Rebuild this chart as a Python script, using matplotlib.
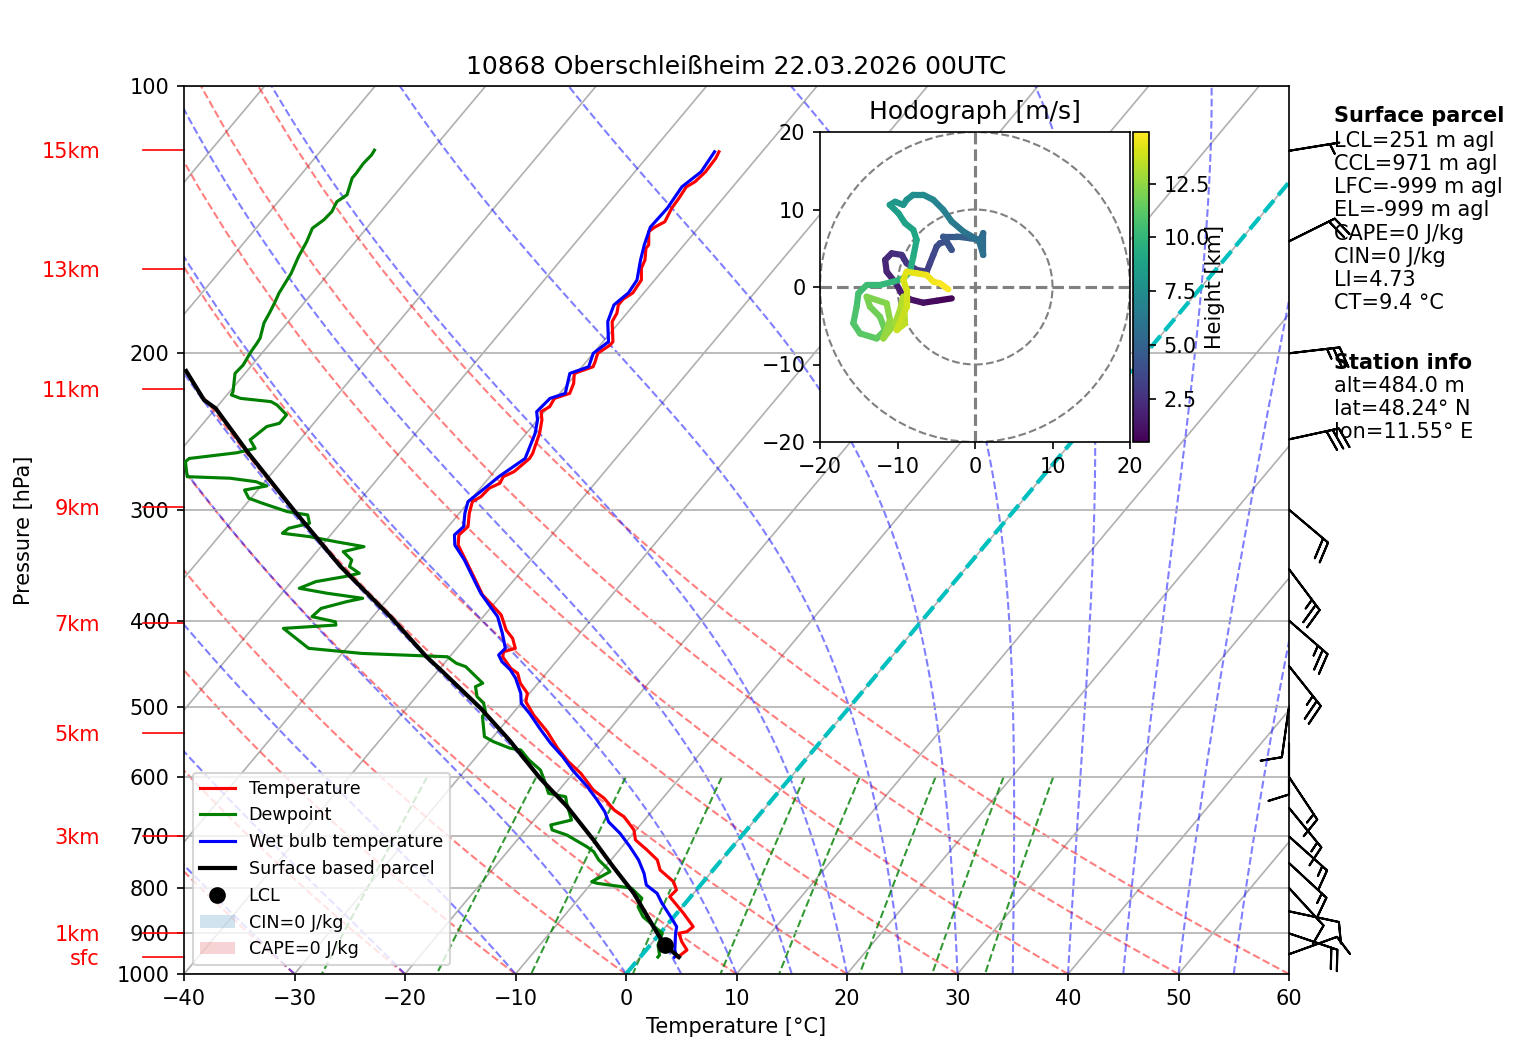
import numpy as np
import matplotlib
matplotlib.use("Agg")
import matplotlib.pyplot as plt
import matplotlib.transforms as mtransforms
from matplotlib.collections import LineCollection
from matplotlib.patches import Patch, Circle
from matplotlib.ticker import FixedLocator, NullLocator, ScalarFormatter, NullFormatter

# ---------------- data ----------------
title = "10868 Oberschleißheim 22.03.2026 00UTC"

temp_p = [118.6, 120.6, 124.9, 128.2, 129.9, 133.9, 137.3, 142.2, 144.2, 145.9, 151.0, 152.3,
          157.0, 160.4, 165.4, 168.3, 171.0, 173.8, 176.4, 180.3, 184.2, 194.1, 195.7, 200.0,
          204.4, 207.1, 210.7, 216.2, 221.9, 224.8, 229.7, 232.7, 237.7, 246.1, 259.3, 262.7,
          271.8, 275.4, 280.1, 283.8, 290.1, 293.8, 302.8, 313.5, 320.3, 328.8, 340.3, 358.4,
          374.3, 385.9, 394.2, 410.0, 418.8, 429.8, 433.6, 439.3, 452.6, 458.5, 470.5, 482.9,
          493.6, 510.8, 533.4, 556.9, 576.7, 594.3, 620.6, 634.0, 653.6, 665.1, 688.3, 706.4,
          725.0, 744.1, 763.6, 787.1, 804.2, 818.4, 832.5, 854.3, 884.6, 896.1, 899.8, 919.7,
          939.7, 952.0, 957.0]
temp_c = [-53.9, -53.7, -53.6, -53.8, -54.2, -54.0, -53.9, -53.5, -54.0, -54.2, -53.2, -53.2,
          -52.4, -52.1, -51.2, -51.1, -51.0, -51.4, -51.4, -50.9, -50.7, -49.1, -49.1, -49.6,
          -49.2, -49.0, -50.2, -49.5, -49.1, -50.1, -49.9, -50.3, -49.6, -48.8, -47.9, -47.8,
          -48.2, -48.8, -48.6, -49.2, -49.3, -49.7, -49.1, -48.2, -48.4, -47.7, -46.1, -43.7,
          -41.7, -39.8, -38.5, -36.9, -35.7, -34.7, -35.5, -35.2, -33.6, -32.6, -31.6, -30.2,
          -29.7, -28.0, -25.5, -23.3, -21.3, -19.3, -16.9, -15.3, -13.5, -12.1, -10.2, -9.3,
          -7.5, -5.8, -4.8, -2.7, -1.8, -1.9, -0.9, 0.6, 2.5, 2.3, 1.7, 2.6,
          3.7, 3.5, 3.4]

dew_p = [118.1, 119.6, 122.2, 125.4, 127.0, 132.6, 135.0, 138.5, 141.5, 144.6, 149.7, 155.7,
         162.6, 166.9, 171.2, 175.0, 179.5, 184.9, 192.3, 194.9, 199.2, 206.2, 210.7, 220.9,
         222.8, 224.8, 226.7, 228.7, 234.6, 239.8, 241.8, 250.3, 255.9, 258.8, 262.7, 264.9,
         275.4, 276.5, 279.0, 282.1, 285.1, 291.2, 295.0, 301.5, 304.1, 310.8, 314.8, 318.9,
         321.7, 326.0, 330.2, 334.5, 341.8, 347.7, 353.8, 356.9, 361.5, 367.8, 372.6, 377.5,
         380.8, 387.5, 395.9, 401.2, 404.6, 408.1, 417.1, 429.8, 435.5, 439.3, 446.8, 450.7,
         462.6, 470.5, 474.7, 487.1, 495.6, 506.5, 513.0, 540.4, 547.5, 556.9, 559.4, 574.1,
         589.3, 604.7, 626.0, 631.5, 642.4, 670.8, 679.5, 688.3, 697.3, 718.8, 728.1, 744.1,
         760.3, 767.0, 787.1, 790.4, 797.4, 800.7, 821.8, 840.1, 862.0, 884.6, 899.8, 927.6,
         952.0, 957.0]
dew_c = [-85.2, -85.1, -85.2, -85.1, -85.1, -84.3, -84.7, -84.4, -84.5, -84.9, -84.4, -84.0,
         -83.4, -83.2, -83.0, -82.7, -82.4, -82.1, -81.3, -81.2, -81.1, -80.8, -80.9, -79.7,
         -79.6, -78.5, -75.5, -74.7, -73.1, -73.1, -74.0, -74.5, -73.4, -74.7, -78.6, -78.7,
         -77.4, -73.4, -70.8, -69.5, -71.2, -70.2, -68.6, -65.7, -63.6, -62.8, -64.3, -64.5,
         -61.8, -59.0, -56.1, -57.6, -56.2, -55.9, -54.5, -55.6, -57.8, -58.8, -55.9, -52.3,
         -53.5, -55.3, -55.5, -53.0, -52.7, -57.2, -55.6, -53.4, -48.2, -40.2, -38.9, -37.8,
         -36.1, -35.0, -35.4, -34.5, -33.4, -32.6, -32.5, -30.8, -29.6, -27.6, -26.5, -25.0,
         -23.2, -22.1, -20.7, -18.9, -18.3, -16.6, -18.1, -17.6, -15.9, -13.2, -12.2, -11.1,
         -9.7, -9.2, -10.1, -9.5, -7.0, -6.0, -4.3, -4.0, -2.8, -1.0, 0.2, 0.7,
         1.6, 1.6]

wetbulb_p = [118.6, 124.9, 129.9, 137.3, 144.2, 151.0, 157.0, 165.4, 171.0, 176.4, 184.2, 194.1,
             200.0, 207.1, 210.7, 221.9, 224.8, 232.7, 237.7, 246.1, 262.7, 275.4, 283.8, 293.8,
             302.8, 313.5, 320.3, 328.8, 341.8, 356.9, 372.6, 385.9, 395.9, 413.5, 429.8, 437.3,
             444.9, 454.6, 464.5, 482.9, 495.6, 508.6, 531.1, 549.8, 569.2, 589.3, 615.2, 636.9,
             656.8, 674.1, 694.4, 718.8, 744.1, 770.2, 794.0, 811.3, 832.5, 862.0, 884.6, 899.8,
             939.7, 952.0, 957.0]
wetbulb_c = [-54.3, -54.0, -54.6, -54.3, -54.4, -53.6, -52.8, -51.6, -51.4, -51.8, -51.1, -49.5,
             -50.0, -49.4, -50.6, -49.5, -50.5, -50.7, -50.0, -49.2, -48.2, -49.2, -49.6, -50.1,
             -49.5, -48.6, -48.8, -48.0, -46.0, -44.0, -42.0, -40.1, -38.7, -37.0, -35.6, -35.7,
             -34.9, -33.5, -32.4, -30.8, -30.0, -28.5, -26.2, -24.3, -22.2, -20.3, -17.7, -15.8,
             -14.2, -13.1, -11.2, -9.3, -7.5, -6.0, -4.9, -3.3, -2.1, -0.3, 1.0, 1.4,
             2.6, 3.1, 3.1]

parcel_p = [209.4, 225.7, 230.7, 259.3, 301.5, 347.7, 395.9, 439.3, 454.6, 502.0, 545.1, 602.1,
            648.0, 706.4, 757.1, 811.3, 884.6, 927.6, 957.0]
parcel_c = [-85.5, -81.7, -80.0, -73.6, -65.0, -56.7, -48.4, -42.1, -39.8, -33.3, -28.3, -22.6,
            -18.0, -13.1, -9.3, -5.4, -1.1, 1.3, 3.5]

lcl_p = 927.6
lcl_c = 1.3

height_labels = ["15km", "13km", "11km", "9km", "7km", "5km", "3km", "1km", "sfc"]
height_p = [118.2, 160.9, 219.4, 298.0, 402.4, 535.6, 698.5, 899.8, 957.3]

barb_p = [118.3, 149.6, 200, 250, 300, 350, 400, 450, 500, 550, 600, 650, 700, 750, 800, 850, 900, 950]
barb_u = [-4.9, -17.9, -24.8, -29.3, -15.3, -15.0, -18.9, -15.6, 1.4, 0.0, -8.3, -9.5, -11.2, -11.0,
          -6.8, -9.8, -18.9, -9.4]
barb_v = [-0.8, -8.9, -2.9, -6.4, 12.9, 20.0, 16.4, 19.6, 9.9, 10.0, 12.5, 11.6, 10.0, 10.2,
          7.4, 2.1, 6.4, -3.4]

hodo_u = [-3.0, -4.95, -6.67, -8.39, -9.46, -10.2, -11.4, -11.6, -10.75, -9.46, -8.82, -7.53, -6.24,
          -5.81, -5.38, -4.95, -4.52, -3.66, -3.01, -4.09, -2.37, -0.65, 0.65, 1.08, 1.08, 0.5,
          -1.5, -3.01, -4.09, -5.38, -6.67, -7.96, -8.82, -9.25, -10.3, -11.0, -9.89, -9.03, -7.96,
          -7.53, -7.96, -8.39, -9.25, -10.54, -12.26, -13.98, -15.05, -15.27, -15.7, -14.84, -12.69,
          -11.61, -12.26, -13.55, -13.98, -11.4, -10.97, -11.83, -10.32, -9.68, -9.25, -9.03, -10.1,
          -8.82, -8.82, -9.25, -8.82, -7.53, -6.24, -5.38, -4.52, -3.44]
hodo_v = [-1.47, -1.77, -2.03, -1.6, -0.82, 0.47, 1.98, 3.49, 4.35, 4.14, 3.06, 2.2, 1.98,
          3.06, 4.14, 5.22, 5.65, 5.86, 4.78, 6.51, 6.51, 6.29, 6.08, 6.94, 4.14, 6.0,
          7.16, 8.45, 9.96, 11.25, 11.9, 11.9, 11.25, 10.6, 11.0, 10.6, 9.53, 8.23, 7.37,
          6.08, 3.92, 1.98, 1.12, 0.69, 0.26, 0.26, -0.82, -2.54, -4.7, -5.99, -6.64,
          -5.56, -3.84, -2.54, -1.25, -2.11, -4.27, -6.64, -4.7, -2.97, -1.25, -4.7, -5.56,
          -2.54, -0.39, 0.91, 1.98, 1.77, 1.55, 0.69, 0.47, -0.3]
hodo_h = [0.5, 0.8, 1.0, 1.3, 1.5, 1.7, 1.9, 2.1, 2.3, 2.5, 2.7, 2.9, 3.1,
          3.3, 3.5, 3.7, 3.9, 4.0, 4.1, 4.3, 4.6, 5.0, 5.3, 5.5, 5.6, 5.8,
          6.1, 6.4, 6.7, 7.0, 7.3, 7.5, 7.7, 7.9, 8.1, 8.3, 8.5, 8.7, 8.9,
          9.1, 9.3, 9.5, 9.7, 9.9, 10.1, 10.3, 10.5, 10.7, 10.9, 11.1, 11.3,
          11.5, 11.7, 11.9, 12.0, 12.2, 12.4, 12.6, 12.8, 13.0, 13.2, 13.4, 13.6,
          13.8, 14.0, 14.1, 14.2, 14.4, 14.5, 14.6, 14.7, 14.9]

parcel_title = "Surface parcel"
parcel_lines = ["LCL=251 m agl", "CCL=971 m agl", "LFC=-999 m agl", "EL=-999 m agl",
                "CAPE=0 J/kg", "CIN=0 J/kg", "LI=4.73", "CT=9.4 °C"]
station_title = "Station info"
station_lines = ["alt=484.0 m", "lat=48.24° N", "lon=11.55° E"]

pressure_ticks = [100, 200, 300, 400, 500, 600, 700, 800, 900, 1000]
temp_ticks = [-40, -30, -20, -10, 0, 10, 20, 30, 40, 50, 60]
isotherm_c = list(range(-110, 61, 10))
dry_t0 = list(range(-40, 61, 10))
moist_t0 = [-40, -30, -20, -10] + list(range(0, 61, 5))
mix_w = [0.0004, 0.001, 0.002, 0.004, 0.007, 0.01, 0.016, 0.024, 0.032]

SKEW = 0.673  # shear of isotherms in axes units

# ---------------- figure ----------------
W, H, DPI = 1517, 1060, 150
fig = plt.figure(figsize=(W / DPI, H / DPI), dpi=DPI)
ax = fig.add_axes([184 / W, 1 - 974 / H, 1105 / W, 888 / H])
ax.set_yscale("log")
ax.set_xlim(-40, 60)
ax.set_ylim(1000, 100)
ax.yaxis.set_major_locator(FixedLocator(pressure_ticks))
ax.yaxis.set_major_formatter(ScalarFormatter())
ax.yaxis.set_minor_locator(NullLocator())
ax.yaxis.set_minor_formatter(NullFormatter())
ax.set_xticks(temp_ticks)
ax.grid(True, axis="y", color="#b0b0b0", lw=0.8)
ax.set_title(title)
ax.set_xlabel("Temperature [°C]")
ax.set_ylabel("Pressure [hPa]")
ax.yaxis.set_label_coords(-0.136, 0.5)

skew = mtransforms.Affine2D().skew(np.arctan(SKEW), 0)
trans = ax.transScale + ax.transLimits + skew + ax.transAxes
blend = mtransforms.blended_transform_factory(ax.transAxes, ax.transData)

# isotherms
for t in isotherm_c:
    ax.plot([t, t], [1000, 100], transform=trans, color="#b0b0b0", lw=0.8, zorder=1)

# dry adiabats
pp = np.linspace(1000, 100, 60)
for t0 in dry_t0:
    tt = (t0 + 273.15) * (pp / 1000.0) ** 0.2857 - 273.15
    ax.plot(tt, pp, transform=trans, color="r", alpha=0.5, ls="--", lw=1, zorder=1.5)

# moist adiabats
def moist_profile(t0c, pres):
    Rd, Cp, Lv, eps = 287.04749, 1004.6662, 2.50084e6, 0.6219569

    def f(T, p):
        es = 6.112 * np.exp(17.67 * (T - 273.15) / (T - 29.65))
        rs = eps * es / (p - es)
        return (Rd * T + Lv * rs) / (Cp + Lv * Lv * rs * eps / (Rd * T * T)) / p

    T = t0c + 273.15
    out = [T]
    for i in range(len(pres) - 1):
        h = pres[i + 1] - pres[i]
        p0 = pres[i]
        k1 = f(T, p0)
        k2 = f(T + 0.5 * h * k1, p0 + 0.5 * h)
        k3 = f(T + 0.5 * h * k2, p0 + 0.5 * h)
        k4 = f(T + h * k3, p0 + h)
        T = T + h * (k1 + 2 * k2 + 2 * k3 + k4) / 6.0
        out.append(T)
    return np.array(out) - 273.15

pm = np.linspace(1000, 100, 200)
for t0 in moist_t0:
    ax.plot(moist_profile(t0, pm), pm, transform=trans, color="b", alpha=0.5, ls="--", lw=1, zorder=1.5)

# mixing ratio lines
pw = np.linspace(600, 1000, 50)
for w in mix_w:
    e = pw * w / (0.6219569 + w)
    val = np.log(e / 6.112)
    td = 243.5 * val / (17.67 - val)
    ax.plot(td, pw, transform=trans, color="g", alpha=0.8, ls="--", lw=1, zorder=1.5)

# 0 degC isotherm
ax.plot([0, 0], [1000, 100], transform=trans, color="c", ls="--", lw=2, zorder=1.8)

# profiles
ax.plot(temp_c, temp_p, transform=trans, color="r", lw=1.5, label="Temperature", zorder=3)
ax.plot(dew_c, dew_p, transform=trans, color="g", lw=1.5, label="Dewpoint", zorder=3)
ax.plot(wetbulb_c, wetbulb_p, transform=trans, color="b", lw=1.5, label="Wet bulb temperature", zorder=3)
ax.plot(parcel_c, parcel_p, transform=trans, color="k", lw=2, label="Surface based parcel", zorder=3.5)
ax.plot([lcl_c], [lcl_p], "o", transform=trans, color="k", ms=7, label="LCL", zorder=4)

handles, labels = ax.get_legend_handles_labels()
handles += [Patch(facecolor="tab:blue", alpha=0.2), Patch(facecolor="tab:red", alpha=0.2)]
labels += ["CIN=0 J/kg", "CAPE=0 J/kg"]
ax.legend(handles, labels, loc="lower left", fontsize=8.4)

# height labels on the left
for lab, p in zip(height_labels, height_p):
    ax.plot([-0.037, 0], [p, p], transform=blend, color="r", lw=0.8, clip_on=False)
    ax.text(-0.076, p, lab, transform=blend, color="r", ha="right", va="center_baseline", fontsize=10)

# wind barbs
ax.barbs(np.ones(len(barb_p)), barb_p, barb_u, barb_v, transform=blend, clip_on=False, length=7)

# ---------------- hodograph ----------------
hax = fig.add_axes([820 / W, 1 - 442 / H, 310 / W, 310 / H])
hax.set_xlim(-20, 20)
hax.set_ylim(-20, 20)
for r in (10, 20):
    hax.add_patch(Circle((0, 0), r, fill=False, edgecolor="grey", ls="--", lw=1))
hax.axhline(0, color="grey", ls="--", zorder=1)
hax.axvline(0, color="grey", ls="--", zorder=1)
pts = np.column_stack([hodo_u, hodo_v])
segs = np.stack([pts[:-1], pts[1:]], axis=1)
hh = np.array(hodo_h)
lc = LineCollection(segs, cmap="viridis", norm=plt.Normalize(hh.min(), hh.max()), lw=3,
                    capstyle="round", joinstyle="round")
lc.set_array(0.5 * (hh[:-1] + hh[1:]))
hax.add_collection(lc)
hax.set_xticks([-20, -10, 0, 10, 20])
hax.set_yticks([-20, -10, 0, 10, 20])
hax.set_title("Hodograph [m/s]")
cax = fig.add_axes([1133 / W, 1 - 442 / H, 16 / W, 310 / H])
fig.colorbar(lc, cax=cax)
fig.text(1215 / W, 1 - 287 / H, "Height [km]", rotation=90, ha="center", va="center", fontsize=10)

# ---------------- info text ----------------
tx = 1334 / W
fig.text(tx, 1 - 122.3 / H, parcel_title, fontweight="bold", va="baseline", fontsize=10)
for i, s in enumerate(parcel_lines):
    fig.text(tx, 1 - (146.7 + 23.2 * i) / H, s, va="baseline", fontsize=10)
fig.text(tx, 1 - 368.7 / H, station_title, fontweight="bold", va="baseline", fontsize=10)
for i, s in enumerate(station_lines):
    fig.text(tx, 1 - (391.7 + 23.3 * i) / H, s, va="baseline", fontsize=10)

fig.savefig("out.png", dpi=DPI)
